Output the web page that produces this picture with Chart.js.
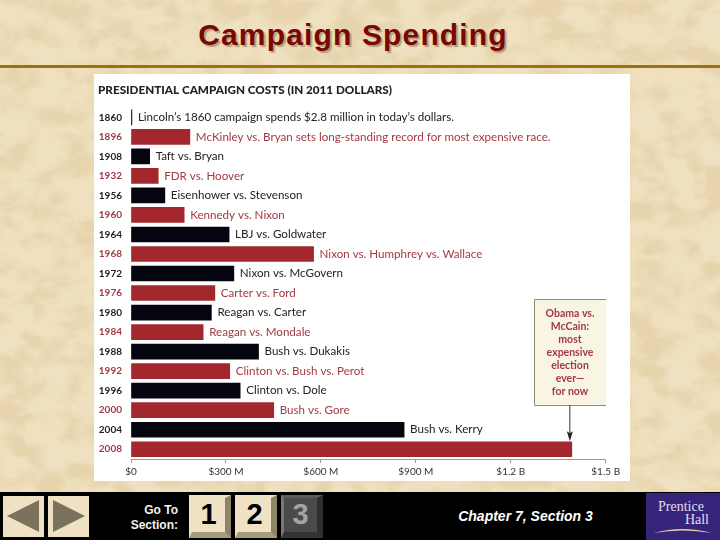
<!DOCTYPE html>
<html>
<head>
<meta charset="utf-8">
<title>Campaign Spending</title>
<script src="https://cdn.jsdelivr.net/npm/chart.js@4/dist/chart.umd.min.js"></script>
<style>
  html, body { margin: 0; padding: 0; }
  body {
    width: 720px; height: 540px; position: relative; overflow: hidden;
    background-color: #ecdcb8;
    background-image: url("data:image/svg+xml;utf8,<svg xmlns='http://www.w3.org/2000/svg' width='720' height='540'><filter id='p' x='0' y='0' width='100%' height='100%'><feTurbulence type='fractalNoise' baseFrequency='0.03 0.045' numOctaves='5' seed='7'/><feColorMatrix values='0 0 0 0 0.80  0 0 0 0 0.66  0 0 0 0 0.42  2.6 2.6 0 0 -2.25'/></filter><rect width='720' height='540' fill='%23efe1c0'/><rect width='720' height='540' filter='url(%23p)'/></svg>");
    font-family: "Liberation Sans", Arial, sans-serif;
  }
  h1 {
    position: absolute; left: 0; top: 17px; width: 706px; margin: 0; text-align: center;
    font-size: 30px; line-height: 36px; font-weight: bold; letter-spacing: 1.15px;
    color: #7a0606; text-shadow: 2px 2px 1px rgba(90, 70, 40, 0.4);
  }
  .rule { position: absolute; left: 0; top: 65px; width: 720px; height: 3px; background: #a0700f; }
  .panel { position: absolute; left: 94px; top: 74px; width: 536px; height: 407px; background: #fff; }
  .panel canvas { filter: blur(0.45px); }
  .footer { position: absolute; left: 0; top: 492px; width: 720px; height: 48px; background: #000; }
  .nav { position: absolute; top: 4px; width: 41px; height: 41px; }
  .goto {
    position: absolute; left: 110px; top: 11px; width: 68px; text-align: right;
    color: #f2f2f2; font-size: 12px; line-height: 14.5px; font-weight: bold;
  }
  .btn {
    position: absolute; top: 3px; width: 42px; height: 43px; box-sizing: border-box;
    border-style: solid; border-width: 3px 6px 6px 3px;
    border-color: #efe3c6 #8f846a #a89c80 #efe3c6;
    background: #efe2c4; color: #000; text-align: center;
    font-size: 29px; line-height: 33px; font-weight: bold;
  }
  .btn.off { background: #4a4a4a; color: #a4a4a4; border-color: #5c5c5c #2e2e2e #333 #777; }
  .chapter {
    position: absolute; left: 440px; top: 16px; width: 171px; text-align: center;
    color: #fff; font-size: 14px; line-height: 17px; font-weight: bold; font-style: italic;
  }
  .logo { position: absolute; left: 646px; top: 1px; width: 74px; height: 47px; }
</style>
</head>
<body>
<h1>Campaign Spending</h1>
<div class="rule"></div>
<div class="panel"><canvas id="chart" width="536" height="407"></canvas></div>
<div class="footer">
  <svg class="nav" style="left:3px" viewBox="0 0 41 41"><rect width="41" height="41" fill="#efe2c4"/><polygon points="4,20 36,4 36,36" fill="#7a725c"/></svg>
  <svg class="nav" style="left:48px" viewBox="0 0 41 41"><rect width="41" height="41" fill="#efe2c4"/><polygon points="5,4 37,20 5,36" fill="#7a725c"/></svg>
  <div class="goto">Go To<br>Section:</div>
  <div class="btn" style="left:189px">1</div>
  <div class="btn" style="left:235px">2</div>
  <div class="btn off" style="left:281px">3</div>
  <div class="chapter">Chapter 7, Section 3</div>
  <svg class="logo" viewBox="0 0 74 47">
    <rect width="74" height="47" fill="#35247a"/>
    <text x="12" y="18" fill="#e4def0" font-family="Liberation Serif" font-size="14">Prentice</text>
    <text x="63" y="31" fill="#e4def0" font-family="Liberation Serif" font-size="14" text-anchor="end">Hall</text>
    <path d="M8 40 Q36 32 66 40 Q36 35 8 40 Z" fill="#e6c9a0"/>
  </svg>
</div>
<script>
const years = ["1860", "1896", "1908", "1932", "1956", "1960", "1964", "1968", "1972", "1976", "1980", "1984", "1988", "1992", "1996", "2000", "2004", "2008"];
const costs = [2.8, 186, 59, 86, 107, 168, 310, 577, 325, 265, 254, 228, 403, 312, 345, 451, 863, 1393];
const matchups = [
  "Lincoln’s 1860 campaign spends $2.8 million in today’s dollars.",
  "McKinley vs. Bryan sets long-standing record for most expensive race.",
  "Taft vs. Bryan", "FDR vs. Hoover", "Eisenhower vs. Stevenson", "Kennedy vs. Nixon",
  "LBJ vs. Goldwater", "Nixon vs. Humphrey vs. Wallace", "Nixon vs. McGovern", "Carter vs. Ford",
  "Reagan vs. Carter", "Reagan vs. Mondale", "Bush vs. Dukakis", "Clinton vs. Bush vs. Perot",
  "Clinton vs. Dole", "Bush vs. Gore", "Bush vs. Kerry", ""
];
const tickLabels = ["$0", "$300 M", "$600 M", "$900 M", "$1.2 B", "$1.5 B"];
const calloutLines = ["Obama vs.", "McCain:", "most", "expensive", "election", "ever—", "for now"];

const RED = "#a5272e";
const BLACK = "#05050f";
const RED_TEXT = "#a33a44";
const BLACK_TEXT = "#222";
const LABEL_FONT = "11.6px Lato";

// row labels next to the bars, plus the Obama vs. McCain box
const annotate = {
  id: "annotate",
  afterDatasetsDraw(chart) {
    const ctx = chart.ctx;
    const bars = chart.getDatasetMeta(0).data;
    ctx.save();
    ctx.font = LABEL_FONT;
    ctx.textBaseline = "middle";
    bars.forEach((bar, i) => {
      ctx.fillStyle = i % 2 ? RED_TEXT : BLACK_TEXT;
      ctx.fillText(matchups[i], bar.x + 6, bar.y);
    });

    const last = bars[bars.length - 1];
    const boxLeft = 440, boxTop = 225, boxW = 72, boxH = 106;
    ctx.fillStyle = "#f8f5e4";
    ctx.fillRect(boxLeft, boxTop, boxW, boxH);
    ctx.strokeStyle = "#8c8c78";
    ctx.lineWidth = 1;
    ctx.beginPath();
    ctx.moveTo(boxLeft + boxW, boxTop + 0.5);
    ctx.lineTo(boxLeft + 0.5, boxTop + 0.5);
    ctx.lineTo(boxLeft + 0.5, boxTop + boxH + 0.5);
    ctx.lineTo(boxLeft + boxW, boxTop + boxH + 0.5);
    ctx.stroke();
    ctx.fillStyle = RED_TEXT;
    ctx.font = "bold 10.5px Lato";
    ctx.textAlign = "center";
    calloutLines.forEach((line, i) => {
      ctx.fillText(line, boxLeft + boxW / 2, boxTop + 15 + i * 13);
    });

    // arrow down to the 2008 bar
    const ax = last.x - 2;
    ctx.strokeStyle = "#333";
    ctx.beginPath();
    ctx.moveTo(ax, boxTop + boxH);
    ctx.lineTo(ax, last.y - 12);
    ctx.stroke();
    ctx.fillStyle = "#222";
    ctx.beginPath();
    ctx.moveTo(ax, last.y - 8);
    ctx.lineTo(ax - 3, last.y - 18);
    ctx.lineTo(ax, last.y - 16);
    ctx.lineTo(ax + 3, last.y - 18);
    ctx.closePath();
    ctx.fill();
    ctx.restore();
  }
};

new Chart(document.getElementById("chart"), {
  type: "bar",
  data: {
    labels: years,
    datasets: [{
      data: costs,
      barThickness: 15,
      backgroundColor: ctx => ctx.dataIndex % 2 ? RED : BLACK,
      borderWidth: 0
    }]
  },
  plugins: [annotate],
  options: {
    indexAxis: "y",
    responsive: false,
    animation: false,
    layout: { padding: { left: 4, right: 24.3, top: 0, bottom: 6 } },
    plugins: {
      legend: { display: false },
      tooltip: { enabled: false },
      title: {
        display: true,
        text: "PRESIDENTIAL CAMPAIGN COSTS (IN 2011 DOLLARS)",
        align: "start",
        color: "#222",
        font: { family: "Lato", size: 11.7, weight: "900" },
        padding: { top: 9.5, bottom: 10 }
      }
    },
    scales: {
      x: {
        min: 0,
        max: 1500,
        afterFit: axis => { axis.height = 16; },
        border: { color: "#999" },
        grid: { drawOnChartArea: false, color: "#999", tickLength: 4 },
        ticks: {
          stepSize: 300,
          maxRotation: 0,
          padding: 3,
          color: "#333",
          font: { family: "Lato", size: 10 },
          callback: (v, i) => tickLabels[i]
        }
      },
      y: {
        afterFit: axis => { axis.width = 33; },
        border: { display: false },
        grid: { display: false },
        ticks: {
          padding: 1,
          color: ctx => ctx.index % 2 ? RED_TEXT : BLACK_TEXT,
          font: { family: "Lato", size: 10, weight: "bold" }
        }
      }
    }
  }
});
</script>
</body>
</html>
